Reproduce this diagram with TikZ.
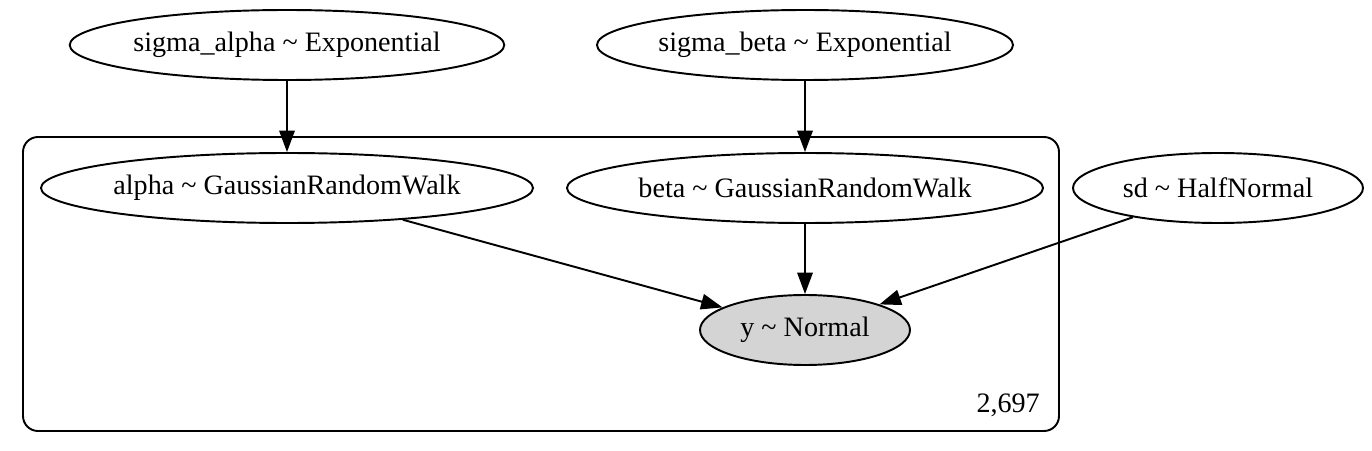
\documentclass[tikz,border=0pt]{standalone}
\usepackage{fontspec}
\setmainfont{Liberation Serif}
\usetikzlibrary{shapes.geometric,arrows.meta}
\begin{document}
\begin{tikzpicture}[>={Triangle[length=0.43cm,width=0.31cm]},
  font=\fontsize{16}{19}\selectfont,
  rv/.style={draw, ellipse, line width=1.1pt, inner sep=0pt, minimum height=1.4cm},
  obs/.style={rv, fill=black!17},
  edge/.style={->, line width=1.1pt}]
  \useasboundingbox (0,0) rectangle (27.44,9);
  % plate
  \draw[line width=1.1pt, rounded corners=0.3cm] (0.46,0.38) rectangle (21.18,6.26);
  \node[anchor=east] (count) at (20.92,0.9) {2,697};
  % priors
  \node[rv, minimum width=8.64cm] (sigmaalpha) at (5.74,8.1) {sigma\_alpha \textasciitilde{} Exponential};
  \node[rv, minimum width=8.32cm] (sigmabeta) at (16.1,8.1) {sigma\_beta \textasciitilde{} Exponential};
  \node[rv, minimum width=9.84cm] (alpha) at (5.74,5.24) {alpha \textasciitilde{} GaussianRandomWalk};
  \node[rv, minimum width=9.52cm] (beta) at (16.1,5.24) {beta \textasciitilde{} GaussianRandomWalk};
  \node[rv, minimum width=5.8cm] (sd) at (24.36,5.24) {sd \textasciitilde{} HalfNormal};
  \node[obs, minimum width=4.2cm] (y) at (16.1,2.4) {y \textasciitilde{} Normal};
  % edges
  \draw[edge] (sigmaalpha) -- (alpha);
  \draw[edge] (sigmabeta) -- (beta);
  \draw[edge] (alpha) -- (y);
  \draw[edge] (beta) -- (y);
  \draw[edge] (sd) -- (y);
\end{tikzpicture}
\end{document}
